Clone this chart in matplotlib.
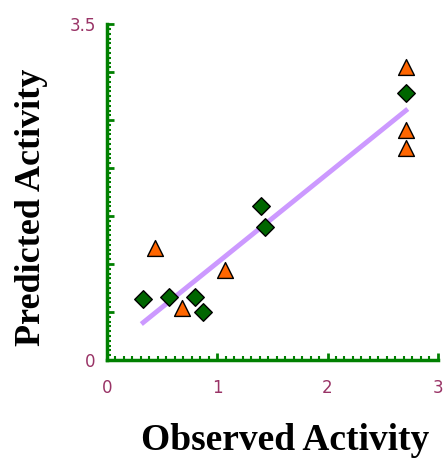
import matplotlib.pyplot as plt
import numpy as np
from matplotlib.ticker import MultipleLocator, FixedLocator

# green diamonds
gx = [0.33, 0.56, 0.80, 0.87, 1.40, 1.43, 2.71]
gy = [0.63, 0.66, 0.66, 0.50, 1.60, 1.39, 2.78]
# orange triangles
ox = [0.44, 0.68, 1.07, 2.71, 2.71, 2.71]
oy = [1.17, 0.54, 0.94, 3.05, 2.40, 2.21]
# fitted line
lx = [0.33, 2.71]
ly = [0.39, 2.60]

yticks = [0, 0.5, 1, 1.5, 2, 2.5, 3, 3.5]
ylabels = ['0', '', '', '', '', '', '', '3.5']

fig = plt.figure(figsize=(4.45, 4.65), dpi=100)
ax = fig.add_axes([0.240, 0.226, 0.744, 0.722])

ax.plot(lx, ly, color='#cc99ff', lw=3.5, zorder=2)
ax.scatter(gx, gy, marker='D', s=80, color='#006600', edgecolors='black', linewidths=1, zorder=3)
ax.scatter(ox, oy, marker='^', s=130, color='#ff6600', edgecolors='black', linewidths=1, zorder=3)

ax.set_xlim(0, 3)
ax.set_ylim(0, 3.5)
ax.spines['top'].set_visible(False)
ax.spines['right'].set_visible(False)
for s in ['left', 'bottom']:
    ax.spines[s].set_color('#008000')
    ax.spines[s].set_linewidth(2.5)

ax.xaxis.set_major_locator(FixedLocator([0, 1, 2, 3]))
ax.xaxis.set_minor_locator(MultipleLocator(1 / 13))
ax.yaxis.set_major_locator(FixedLocator(yticks))
ax.yaxis.set_minor_locator(MultipleLocator(0.05))
ax.tick_params(axis='both', which='major', colors='#008000', labelcolor='#993366',
               labelsize=12, length=5, width=2, direction='in')
ax.tick_params(axis='both', which='minor', colors='#008000', length=3, width=1.5, direction='in')
ax.tick_params(axis='x', pad=14)
ax.tick_params(axis='y', pad=8)
ax.set_yticklabels(ylabels)

ax.set_xlabel('Observed Activity', fontsize=27, fontweight='bold', family='Liberation Serif',
              va='center')
ax.set_ylabel('Predicted Activity', fontsize=26, fontweight='bold', family='Liberation Serif',
              va='center', ha='center')
ax.xaxis.set_label_coords(0.538, -0.241)
ax.yaxis.set_label_coords(-0.227, 0.455)

plt.savefig('out.png')
